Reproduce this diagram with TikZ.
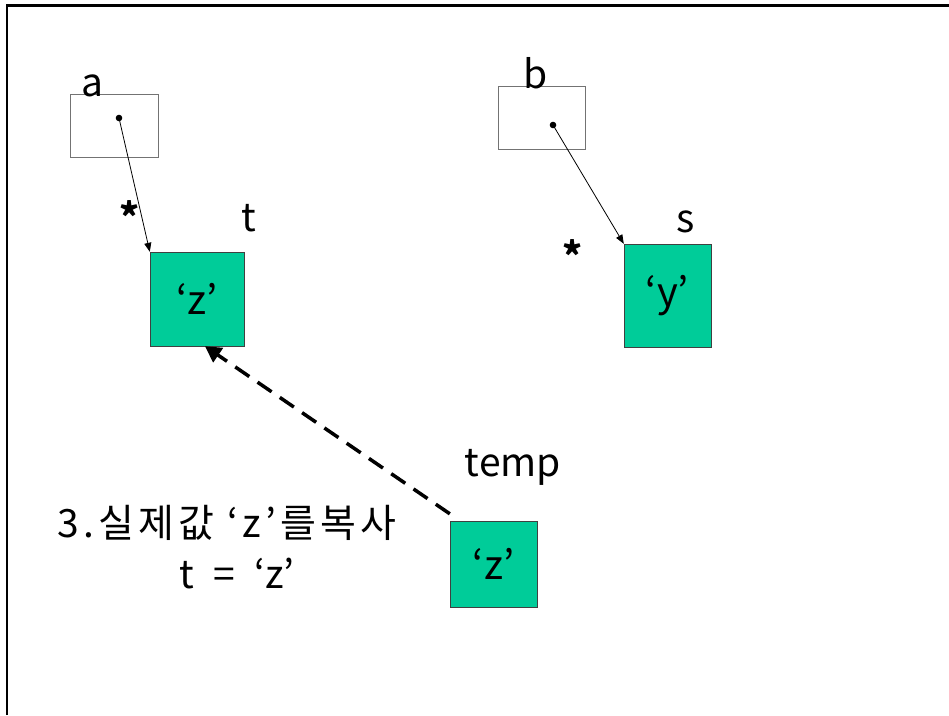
\documentclass[tikz,border=0pt]{standalone}
\usepackage{fontspec}
\setmainfont{Noto Sans CJK KR}
\usetikzlibrary{arrows.meta}
\definecolor{valgreen}{RGB}{0,204,153}

\begin{document}
\begin{tikzpicture}[x=1pt, y=-1pt,
    ptrbox/.style = {draw=black!55, fill=white, inner sep=0pt},
    valbox/.style = {draw=black!75, fill=valgreen, inner sep=0pt, font=\fontsize{40}{40}\selectfont},
    lbl/.style = {inner sep=0pt, font=\fontsize{39}{39}\selectfont},
    star/.style = {inner sep=0pt, font=\fontsize{38}{38}\selectfont\bfseries}]
    \useasboundingbox (0,0) rectangle (949,715);
    % Frame
    \draw[line width=2.7pt] (7,715) -- (7,5.3) -- (949,5.3);

    % Pointer boxes
    \node[ptrbox, minimum width=88pt, minimum height=63pt] (a) at (114,125.5) {};
    \node[ptrbox, minimum width=87pt, minimum height=63pt] (b) at (541.5,117.5) {};
    \coordinate (adot) at (119,118);
    \coordinate (bdot) at (553,125);
    \fill (adot) circle (3.3pt);
    \fill (bdot) circle (3.3pt);
    \node[lbl, anchor=base] (alabel) at (92,96) {a};
    \node[lbl, anchor=base] (blabel) at (536,88) {b};

    % Value boxes
    \node[valbox, minimum width=94pt, minimum height=94pt] (t) at (197,299) {‘z’};
    \node[valbox, minimum width=87pt, minimum height=103pt] (s) at (667.5,295.5) {‘y’};
    \node[valbox, minimum width=87pt, minimum height=86pt] (temp) at (493.5,564) {‘z’};
    \node[lbl, anchor=base] (tlabel) at (249,231) {t};
    \node[lbl, anchor=base] (slabel) at (686,232) {s};
    \node[lbl, anchor=base] (templabel) at (513,476) {temp};

    % Stars
    \node[star] (astar) at (130,216) {*};
    \node[star] (bstar) at (573,255) {*};

    % Pointers
    \draw[line width=0.8pt, -{Triangle[length=9pt, width=7pt]}] (adot) -- (t.north west);
    \draw[line width=0.8pt, -{Triangle[length=9pt, width=7pt]}] (bdot) -- (s.north west);

    % Copy
    \draw[line width=3.5pt, dash pattern=on 17pt off 10pt, -{Triangle[length=16pt, width=17pt]}]
        ([yshift=7pt]temp.north west) -- ([xshift=8pt]t.south);
    \node[lbl, anchor=base] (step3) at (227,537) {\addfontfeature{LetterSpace=11}3.실제값 ‘z’를복사};
    \node[lbl, anchor=base] (assign) at (237,588) {t\enspace=\enspace‘z’};
\end{tikzpicture}
\end{document}
